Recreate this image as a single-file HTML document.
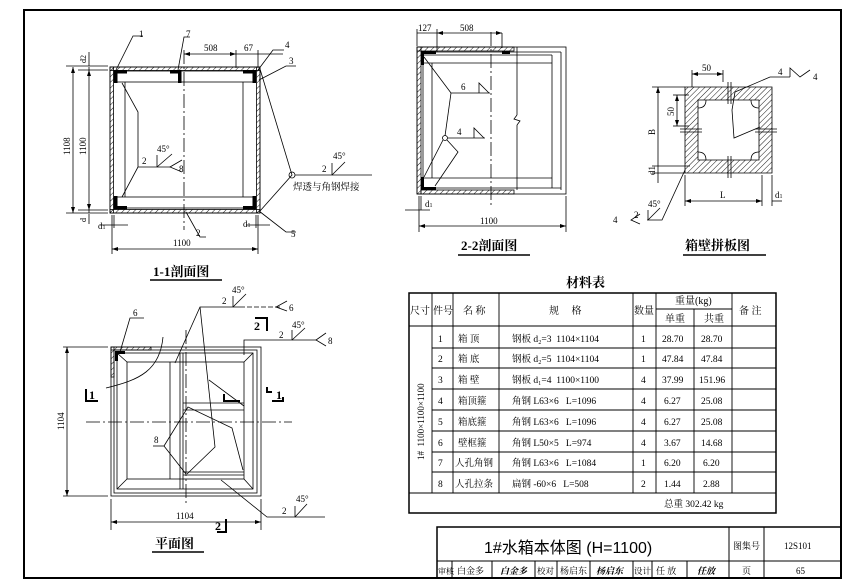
<!DOCTYPE html>
<html><head><meta charset="utf-8"><style>
html,body{margin:0;padding:0;background:#fff}
svg{display:block}
text{font-family:"Liberation Serif","Noto Serif CJK SC","Noto Sans CJK SC",serif;fill:#000}
.s{font-family:"Liberation Sans","Noto Sans CJK SC",sans-serif;font-weight:bold}
</style></head><body>
<svg width="853" height="587" viewBox="0 0 853 587" xmlns="http://www.w3.org/2000/svg">
<defs>
<pattern id="h" width="4" height="4" patternUnits="userSpaceOnUse" patternTransform="rotate(45)"><line x1="0" y1="0" x2="0" y2="4" stroke="#000" stroke-width="0.9"/></pattern>
</defs>
<rect x="0" y="0" width="853" height="587" fill="#fff"/>
<rect x="24" y="10" width="817" height="568" fill="none" stroke="#000" stroke-width="2"/>

<g stroke="#000" fill="none" stroke-width="0.8">
<rect x="110" y="67" width="150" height="146"/>
<rect x="110" y="67" width="150" height="3.5" fill="url(#h)"/>
<rect x="110" y="209.5" width="150" height="3.5" fill="url(#h)"/>
<rect x="110" y="67" width="3.5" height="146" fill="url(#h)"/>
<rect x="256.5" y="67" width="3.5" height="146" fill="url(#h)"/>
<rect x="114" y="71" width="141" height="11"/>
<rect x="114" y="197" width="141" height="11"/>
<line x1="125" y1="82" x2="125" y2="197"/><line x1="243" y1="82" x2="243" y2="197"/>
<g fill="#000" stroke="none">
<rect x="114" y="70" width="13" height="3.5"/><rect x="114" y="70" width="3.5" height="13"/>
<rect x="170" y="70" width="11" height="3.5"/><rect x="178" y="70" width="3.5" height="13"/>
<rect x="243" y="70" width="13" height="3.5"/><rect x="252.5" y="70" width="3.5" height="13"/>
<rect x="114" y="206" width="13" height="3.5"/><rect x="114" y="196" width="3.5" height="13"/>
<rect x="243" y="206" width="13" height="3.5"/><rect x="252.5" y="196" width="3.5" height="13"/>
</g>
<line x1="184" y1="50" x2="184" y2="230" stroke-dasharray="14,3,2,3"/>
<polyline points="122,83 138,112 138,167 122,197"/>
<line x1="138" y1="167" x2="170" y2="167"/>
<line x1="157" y1="167" x2="157" y2="155"/><line x1="157" y1="167" x2="172" y2="154"/>
<polyline points="182,160 170,167 182,172"/>
<polyline points="260,69 292,175 260,211"/>
<circle cx="292" cy="175" r="3"/>
<line x1="295" y1="175" x2="372" y2="175"/>
<line x1="332" y1="175" x2="332" y2="163"/><line x1="332" y1="175" x2="345" y2="162"/>
<polyline points="116,70 133,36 143,36"/>
<polyline points="178,70 184,37 190,37"/>
<polyline points="258,70 273,50 284,50"/>
<polyline points="259,80 286,66 296,66"/>
<polyline points="259,211 286,232 296,232"/>
<polyline points="186,212 200,237 206,237"/>
<line x1="184" y1="54" x2="283" y2="54"/>
<line x1="236" y1="50" x2="236" y2="68"/><line x1="258" y1="50" x2="258" y2="68"/>
<line x1="73" y1="67" x2="73" y2="213"/><line x1="89" y1="67" x2="89" y2="213"/>
<line x1="66" y1="66" x2="108" y2="66"/><line x1="78" y1="70" x2="108" y2="70"/>
<line x1="66" y1="213" x2="108" y2="213"/><line x1="78" y1="210" x2="108" y2="210"/>
<line x1="89" y1="52" x2="89" y2="66"/><line x1="89" y1="214" x2="89" y2="224"/>
<line x1="112" y1="215" x2="112" y2="254"/><line x1="258" y1="215" x2="258" y2="254"/>
<line x1="114" y1="215" x2="114" y2="228"/><line x1="256" y1="215" x2="256" y2="228"/>
<line x1="100" y1="225" x2="128" y2="225"/><line x1="246" y1="225" x2="270" y2="225"/>
<line x1="112" y1="249" x2="258" y2="249"/>

<rect x="417" y="47" width="149" height="147"/>
<rect x="417" y="47" width="4" height="147" fill="url(#h)"/>
<rect x="417" y="47" width="97" height="4" fill="url(#h)"/>
<rect x="421" y="190" width="93" height="4" fill="url(#h)"/>
<line x1="421" y1="52" x2="561" y2="52"/><line x1="561" y1="52" x2="561" y2="190"/>
<line x1="421" y1="55" x2="552" y2="55"/><line x1="421" y1="63" x2="552" y2="63"/>
<line x1="552" y1="55" x2="552" y2="188"/>
<line x1="421" y1="178" x2="552" y2="178"/><line x1="421" y1="188" x2="561" y2="188"/>
<line x1="423" y1="63" x2="423" y2="178"/><line x1="432" y1="63" x2="432" y2="178"/>
<line x1="517" y1="47" x2="517" y2="115"/><polyline points="517,115 514,119 520,121 517,125"/><line x1="517" y1="125" x2="517" y2="190"/>
<line x1="491" y1="32" x2="491" y2="205" stroke-dasharray="14,3,2,3"/>
<g fill="#000" stroke="none">
<rect x="421" y="51" width="15" height="3"/><rect x="421" y="51" width="3" height="14"/>
<rect x="502" y="51" width="8" height="3"/>
<rect x="421" y="187" width="15" height="3"/><rect x="421" y="177" width="3" height="13"/>
</g>
<polyline points="424,57 451,93 490,93"/>
<polyline points="479,93 479,83 489,93"/>
<line x1="451" y1="93" x2="445" y2="136"/>
<line x1="448" y1="138" x2="485" y2="138"/>
<polyline points="474,138 474,128 484,138"/>
<circle cx="445" cy="138" r="2.5"/>
<polyline points="443,140 424,177"/><polyline points="447,140 458,152 435,186"/>
<line x1="417" y1="29" x2="417" y2="46"/><line x1="437" y1="29" x2="437" y2="52"/>
<line x1="502" y1="33" x2="502" y2="48"/>
<line x1="417" y1="33" x2="437" y2="33"/><line x1="437" y1="33" x2="502" y2="33"/>
<line x1="419" y1="196" x2="419" y2="232"/><line x1="421" y1="196" x2="421" y2="210"/><line x1="566" y1="196" x2="566" y2="232"/>
<line x1="405" y1="210" x2="430" y2="210"/>
<line x1="419" y1="226" x2="566" y2="226"/>

<path d="M685,87 H772 V173 H685 Z M698,100 H759 V160 H698 Z" fill="url(#h)" fill-rule="evenodd"/>
<path d="M698,108 q8,0 8,-8 M751,100 q0,8 8,8 M698,152 q8,0 8,8 M751,160 q0,-8 8,-8"/>
<line x1="728" y1="82" x2="728" y2="104"/><line x1="731" y1="82" x2="731" y2="104"/>
<line x1="728" y1="156" x2="728" y2="178"/><line x1="731" y1="156" x2="731" y2="178"/>
<line x1="680" y1="129" x2="702" y2="129"/><line x1="680" y1="132" x2="702" y2="132"/>
<line x1="755" y1="129" x2="777" y2="129"/><line x1="755" y1="132" x2="777" y2="132"/>
<line x1="692" y1="74" x2="723" y2="74"/><line x1="692" y1="70" x2="692" y2="87"/><line x1="723" y1="70" x2="723" y2="82"/>
<line x1="677" y1="95" x2="677" y2="126"/><line x1="673" y1="95" x2="689" y2="95"/><line x1="673" y1="126" x2="689" y2="126"/>
<line x1="658" y1="87" x2="658" y2="183"/><line x1="652" y1="87" x2="685" y2="87"/>
<line x1="652" y1="166" x2="690" y2="166"/><line x1="652" y1="173" x2="685" y2="173"/>
<line x1="685" y1="175" x2="685" y2="206"/><line x1="762" y1="175" x2="762" y2="206"/><line x1="772" y1="175" x2="772" y2="206"/>
<line x1="685" y1="201" x2="762" y2="201"/><line x1="772" y1="201" x2="782" y2="201"/>
<polyline points="735,92 770,77 790,77"/>
<polyline points="790,77 790,68 800,77 810,70 M800,77 810,84"/>
<polyline points="735,92 732,110 734,138 760,127"/>
<polyline points="685,170 662,220 647,220"/>
<line x1="648" y1="220" x2="648" y2="210"/><line x1="648" y1="220" x2="660" y2="208"/>
<polyline points="640,214 631,220 640,224"/>

<rect x="111" y="347" width="150" height="149"/>
<rect x="114" y="350" width="143" height="143"/>
<rect x="117" y="353" width="136" height="136"/>
<rect x="127" y="362" width="117" height="117"/>
<line x1="117" y1="353" x2="127" y2="362"/><line x1="253" y1="353" x2="244" y2="362"/>
<line x1="117" y1="489" x2="127" y2="479"/><line x1="253" y1="489" x2="244" y2="479"/>
<rect x="111" y="347" width="40" height="3" fill="url(#h)"/>
<rect x="111" y="347" width="3" height="30" fill="url(#h)"/>
<rect x="115" y="351" width="10" height="3" fill="#000" stroke="none"/><rect x="115" y="351" width="3" height="10" fill="#000" stroke="none"/>
<line x1="170" y1="362" x2="170" y2="479"/><line x1="180" y1="353" x2="180" y2="489"/><line x1="183" y1="353" x2="183" y2="489"/>
<line x1="183" y1="403" x2="244" y2="403"/><line x1="183" y1="410" x2="244" y2="410"/>
<line x1="183" y1="472" x2="244" y2="472"/><line x1="183" y1="475" x2="244" y2="475"/>
<line x1="86" y1="422" x2="292" y2="422" stroke-dasharray="14,3,2,3"/>
<line x1="186" y1="330" x2="186" y2="505" stroke-dasharray="14,3,2,3"/>
<path d="M106,388 C140,380 160,370 163,337"/>
<polyline points="120,352 130,318 144,318"/>
<polyline points="175,363 200,307 240,307"/>
<line x1="240" y1="307" x2="282" y2="307" stroke-dasharray="5,2"/>
<polyline points="200,307 215,447 187,474"/>
<polyline points="287,301 276,307 287,311"/>
<line x1="233" y1="307" x2="233" y2="296"/><line x1="233" y1="307" x2="246" y2="294"/>
<polyline points="244,355 244,340 316,340"/>
<polyline points="326,333 316,340 326,346"/>
<line x1="292" y1="340" x2="292" y2="330"/><line x1="292" y1="340" x2="305" y2="328"/>
<polyline points="209,380 244,406"/>
<polyline points="164,446 188,407 232,428 243,470"/>
<polyline points="164,446 186,474"/>
<line x1="153" y1="446" x2="164" y2="446"/>
<polyline points="221,480 267,517 325,517"/>
<line x1="295" y1="517" x2="295" y2="506"/><line x1="295" y1="517" x2="307" y2="504"/>
<line x1="63" y1="347" x2="108" y2="347"/><line x1="63" y1="496" x2="108" y2="496"/>
<line x1="67" y1="347" x2="67" y2="496"/>
<line x1="111" y1="499" x2="111" y2="530"/><line x1="261" y1="499" x2="261" y2="530"/>
<line x1="111" y1="522" x2="261" y2="522"/>
</g>
<g stroke="#000" stroke-width="2" fill="none">
<polyline points="86,389 86,401 98,401"/>
<polyline points="283,397 283,401 272,401"/><polyline points="267,387 267,392 272,392"/>
<polyline points="255,318 267,318 267,331"/>
<polyline points="217,532 226,532 226,519"/>
<polyline points="224,394 224,401 240,401"/>
</g>
<g fill="#000">
<path d="M73,67 l-2,6 h4z M73,213 l-2,-6 h4z M89,70 l-2,6 h4z M89,210 l-2,-6 h4z"/>
<path d="M112,249 l6,-2 v4z M258,249 l-6,-2 v4z M184,54 l6,-2 v4z M236,54 l-6,-2 v4z"/>
<path d="M419,226 l6,-2 v4z M566,226 l-6,-2 v4z M437,33 l6,-2 v4z M502,33 l-6,-2 v4z"/>
<path d="M685,201 l6,-2 v4z M762,201 l-6,-2 v4z M692,74 l6,-2 v4z M723,74 l-6,-2 v4z"/>
<path d="M677,95 l-2,6 h4z M677,126 l-2,-6 h4z M658,87 l-2,6 h4z"/>
<path d="M67,347 l-2,6 h4z M67,496 l-2,-6 h4z M111,522 l6,-2 v4z M261,522 l-6,-2 v4z"/>
</g>
<g font-size="9">
<text x="139" y="37">1</text><text x="186" y="37">7</text><text x="204" y="51">508</text><text x="244" y="51">67</text><text x="285" y="48">4</text><text x="289" y="64">3</text><text x="291" y="237">5</text><text x="196" y="236">2</text>
<text x="142" y="164">2</text><text x="157" y="152">45°</text><text x="179" y="172">8</text>
<text x="322" y="172">2</text><text x="333" y="159">45°</text>
<text x="293" y="190" font-size="9.5">焊透与角钢焊接</text>
<text x="173" y="246">1100</text><text x="98" y="229">d<tspan font-size="6">1</tspan></text><text x="243" y="227">d<tspan font-size="6">1</tspan></text>
<text transform="translate(70,155) rotate(-90)">1108</text><text transform="translate(86,155) rotate(-90)">1100</text>
<text transform="translate(86,63) rotate(-90)" font-size="8">d2</text><text transform="translate(86,222) rotate(-90)" font-size="8">d</text>
<text x="418" y="31">127</text><text x="460" y="31">508</text><text x="461" y="90">6</text><text x="457" y="135">4</text>
<text x="425" y="207">d<tspan font-size="6">1</tspan></text><text x="480" y="224">1100</text>
<text x="702" y="71">50</text><text x="778" y="75">4</text><text x="813" y="80">4</text>
<text transform="translate(674,116) rotate(-90)">50</text><text transform="translate(655,135) rotate(-90)">B</text><text transform="translate(655,175) rotate(-90)">d1</text>
<text x="720" y="198">L</text><text x="775" y="198">d<tspan font-size="6">1</tspan></text>
<text x="634" y="218">2</text><text x="648" y="207">45°</text><text x="613" y="223">4</text>
<text x="133" y="316">6</text><text x="222" y="304">2</text><text x="232" y="293">45°</text><text x="289" y="311">6</text>
<text x="279" y="338">2</text><text x="292" y="328">45°</text><text x="328" y="344">8</text>
<text x="154" y="443">8</text><text x="282" y="514">2</text><text x="296" y="502">45°</text>
<text transform="translate(64,430) rotate(-90)">1104</text><text x="176" y="519">1104</text>
</g>
<g class="s" font-size="12">
<text x="89" y="399">1</text><text x="276" y="399">1</text><text x="254" y="330">2</text><text x="215" y="530">2</text>
</g>
<g class="s" font-size="13">
<text x="153" y="276">1-1剖面图</text>
<text x="461" y="250">2-2剖面图</text>
<text x="685" y="250">箱壁拼板图</text>
<text x="155" y="548">平面图</text>
<text x="566" y="287">材料表</text>
</g>
<g stroke="#000" stroke-width="1.5">
<line x1="150" y1="280" x2="222" y2="280"/><line x1="458" y1="255" x2="530" y2="255"/><line x1="683" y1="255" x2="766" y2="255"/><line x1="152" y1="552" x2="204" y2="552"/>
</g>

<g stroke="#000" fill="none" stroke-width="0.9">
<rect x="409" y="293" width="367" height="220" stroke-width="1.5"/>
<line x1="409" y1="326" x2="776" y2="326"/>
<line x1="432" y1="293" x2="432" y2="493"/><line x1="453" y1="293" x2="453" y2="493"/>
<line x1="499" y1="293" x2="499" y2="493"/><line x1="633" y1="293" x2="633" y2="493"/>
<line x1="656" y1="293" x2="656" y2="493"/><line x1="694" y1="309" x2="694" y2="493"/>
<line x1="732" y1="293" x2="732" y2="493"/><line x1="656" y1="309" x2="732" y2="309"/>
<line x1="432" y1="348" x2="776" y2="348"/><line x1="432" y1="368" x2="776" y2="368"/>
<line x1="432" y1="389" x2="776" y2="389"/><line x1="432" y1="410" x2="776" y2="410"/>
<line x1="432" y1="431" x2="776" y2="431"/><line x1="432" y1="452" x2="776" y2="452"/>
<line x1="432" y1="472" x2="776" y2="472"/><line x1="409" y1="493" x2="776" y2="493"/>
</g>
<g font-size="10">
<text x="410" y="314">尺寸</text><text x="433" y="314">件号</text><text x="463" y="314">名 称</text><text x="549" y="314">规&#160;&#160;&#160;&#160;&#160;格</text>
<text x="634" y="314">数量</text><text x="675" y="304">重量(kg)</text><text x="665" y="322">单重</text><text x="704" y="322">共重</text><text x="739" y="314">备 注</text>
<text transform="translate(424,460) rotate(-90)" font-size="9">1#&#160;&#160;1100×1100×1100</text>
</g>
<g font-size="9.5">
<text x="438" y="342">1</text><text x="458" y="342">箱 顶</text><text x="512" y="342">钢板 d₂=3&#160;&#160;1104×1104</text><text x="641" y="342">1</text><text x="662" y="342">28.70</text><text x="701" y="342">28.70</text>
<text x="438" y="362">2</text><text x="458" y="362">箱 底</text><text x="512" y="362">钢板 d₂=5&#160;&#160;1104×1104</text><text x="641" y="362">1</text><text x="662" y="362">47.84</text><text x="701" y="362">47.84</text>
<text x="438" y="383">3</text><text x="458" y="383">箱 壁</text><text x="512" y="383">钢板 d₁=4&#160;&#160;1100×1100</text><text x="641" y="383">4</text><text x="662" y="383">37.99</text><text x="699" y="383">151.96</text>
<text x="438" y="404">4</text><text x="458" y="404">箱顶箍</text><text x="512" y="404">角钢 L63×6&#160;&#160;&#160;L=1096</text><text x="641" y="404">4</text><text x="664" y="404">6.27</text><text x="701" y="404">25.08</text>
<text x="438" y="425">5</text><text x="458" y="425">箱底箍</text><text x="512" y="425">角钢 L63×6&#160;&#160;&#160;L=1096</text><text x="641" y="425">4</text><text x="664" y="425">6.27</text><text x="701" y="425">25.08</text>
<text x="438" y="446">6</text><text x="458" y="446">壁框箍</text><text x="512" y="446">角钢 L50×5&#160;&#160;&#160;L=974</text><text x="641" y="446">4</text><text x="664" y="446">3.67</text><text x="701" y="446">14.68</text>
<text x="438" y="466">7</text><text x="455" y="466">人孔角钢</text><text x="512" y="466">角钢 L63×6&#160;&#160;&#160;L=1084</text><text x="641" y="466">1</text><text x="664" y="466">6.20</text><text x="703" y="466">6.20</text>
<text x="438" y="487">8</text><text x="455" y="487">人孔拉条</text><text x="512" y="487">扁钢 -60×6&#160;&#160;&#160;L=508</text><text x="641" y="487">2</text><text x="664" y="487">1.44</text><text x="703" y="487">2.88</text>
<text x="664" y="507">总重 302.42 kg</text>
</g>

<g stroke="#000" fill="none">
<rect x="437" y="527" width="404" height="51" stroke-width="1.5"/>
<line x1="437" y1="561" x2="841" y2="561"/>
<line x1="729" y1="527" x2="729" y2="578"/><line x1="764" y1="527" x2="764" y2="578"/>
<line x1="452" y1="561" x2="452" y2="578"/><line x1="492" y1="561" x2="492" y2="578"/>
<line x1="535" y1="561" x2="535" y2="578"/><line x1="557" y1="561" x2="557" y2="578"/>
<line x1="590" y1="561" x2="590" y2="578"/><line x1="633" y1="561" x2="633" y2="578"/>
<line x1="652" y1="561" x2="652" y2="578"/><line x1="687" y1="561" x2="687" y2="578"/>
</g>
<text x="484" y="553" font-family="Liberation Sans, Noto Sans CJK SC, sans-serif" font-size="16" style="font-family:'Liberation Sans','Noto Sans CJK SC',sans-serif">1#水箱本体图 (H=1100)</text>
<g font-size="9">
<text x="733" y="549">图集号</text><text x="784" y="549">12S101</text>
<text x="742" y="574">页</text><text x="796" y="574">65</text>
<text x="438" y="574" font-size="8">审核</text><text x="457" y="574">白金多</text><text x="500" y="574" font-style="italic" font-weight="bold">白金多</text>
<text x="537" y="574" font-size="8.5">校对</text><text x="560" y="574">杨启东</text><text x="596" y="574" font-style="italic" font-weight="bold">杨启东</text>
<text x="634" y="574" font-size="8.5">设计</text><text x="656" y="574">任 放</text><text x="697" y="574" font-style="italic" font-weight="bold">任放</text>
</g>
</svg>
</body></html>
